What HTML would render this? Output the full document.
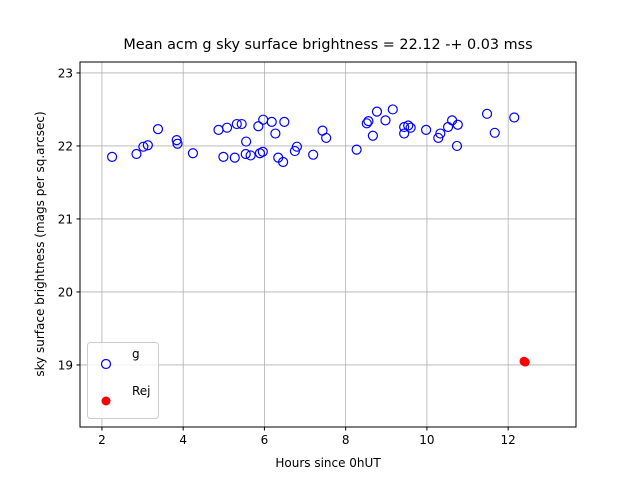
<!DOCTYPE html>
<html><head><meta charset="utf-8"><style>
body{margin:0;background:#fff}
svg text{font-family:"DejaVu Sans","Liberation Sans",sans-serif;fill:#000}
</style></head><body>
<svg width="640" height="480" id="c">
<rect x="0" y="0" width="640" height="480" fill="#fff"/>
<text x="328" y="49" font-size="14.4" text-anchor="middle">Mean acm g sky surface brightness = 22.12 -+ 0.03 mss</text>
<text x="328" y="467" font-size="12" text-anchor="middle">Hours since 0hUT</text>
<text transform="translate(44,244) rotate(-90)" font-size="12" text-anchor="middle">sky surface brightness (mags per sq.arcsec)</text>
<g id="grid"></g><g id="ticks"></g><g id="pts"></g>
<rect x="80" y="62" width="496" height="365" fill="none" stroke="#000" stroke-width="1"/>
<g>
<rect x="87.5" y="342.5" width="71" height="76" rx="3" fill="#fff" fill-opacity="0.8" stroke="#ccc"/>
<circle cx="106" cy="364" r="4.5" fill="none" stroke="#00f" stroke-width="1.2"/>
<text x="132" y="358" font-size="12">g</text>
<circle cx="106" cy="401" r="4.5" fill="#f00"/>
<text x="132" y="395" font-size="12">Rej</text>
</g>
</svg>
<script>
const gX=[2.25,2.85,3.02,3.13,3.38,3.84,3.86,4.24,4.87,5.08,4.99,5.27,5.32,5.44,5.55,5.54,5.66,5.85,5.89,5.97,5.96,6.18,6.27,6.49,6.34,6.46,6.80,6.75,7.20,7.43,7.52,8.27,8.52,8.56,8.77,8.67,8.98,9.16,9.44,9.44,9.54,9.60,9.98,10.28,10.33,10.52,10.62,10.76,10.74,11.48,11.67,12.15];
const gY=[21.85,21.89,21.99,22.01,22.23,22.08,22.03,21.90,22.22,22.25,21.85,21.84,22.30,22.30,22.06,21.89,21.87,22.27,21.90,22.36,21.92,22.33,22.17,22.33,21.84,21.78,21.99,21.93,21.88,22.21,22.11,21.95,22.31,22.34,22.47,22.14,22.35,22.50,22.26,22.17,22.28,22.25,22.22,22.11,22.17,22.26,22.35,22.29,22.00,22.44,22.18,22.39];
const rejX=[12.39,12.42];
const rejY=[19.05,19.04];
const xTicks=[2,4,6,8,10,12];
const yTicks=[19,20,21,22,23];
const X0=1.46,X1=13.67,Y0=18.15,Y1=23.15;
const L=80,R=576,T=62,B=427;
const sx=v=>L+(v-X0)/(X1-X0)*(R-L);
const sy=v=>B-(v-Y0)/(Y1-Y0)*(B-T);
const NS="http://www.w3.org/2000/svg";
function mk(t,a,p){const e=document.createElementNS(NS,t);for(const k in a)e.setAttribute(k,a[k]);p.appendChild(e);return e;}
const grid=document.getElementById('grid'),ticks=document.getElementById('ticks'),pts=document.getElementById('pts');
xTicks.forEach(v=>{const x=sx(v);
const g=mk('line',{x1:x,x2:x,y1:T,y2:B,stroke:'#b0b0b0','stroke-width':0.8},grid);


mk('line',{x1:x,x2:x,y1:B,y2:B+3.5,stroke:'#000'},ticks);
const t=mk('text',{x:x,y:B+17,'font-size':12,'text-anchor':'middle'},ticks);t.textContent=v;

});
yTicks.forEach(v=>{const y=sy(v);
const g=mk('line',{x1:L,x2:R,y1:y,y2:y,stroke:'#b0b0b0','stroke-width':0.8},grid);


mk('line',{x1:L-3.5,x2:L,y1:y,y2:y,stroke:'#000'},ticks);
const t=mk('text',{x:L-7,y:y+4.5,'font-size':12,'text-anchor':'end'},ticks);t.textContent=v;

});
gX.forEach((v,i)=>{const c=mk('circle',{cx:sx(v),cy:sy(gY[i]),r:4.5,fill:'none',stroke:'#00f','stroke-width':1.2},pts);

});
rejX.forEach((v,i)=>{const c=mk('circle',{cx:sx(v),cy:sy(rejY[i]),r:4.5,fill:'#f00'},pts);

});
</script>
</body></html>
